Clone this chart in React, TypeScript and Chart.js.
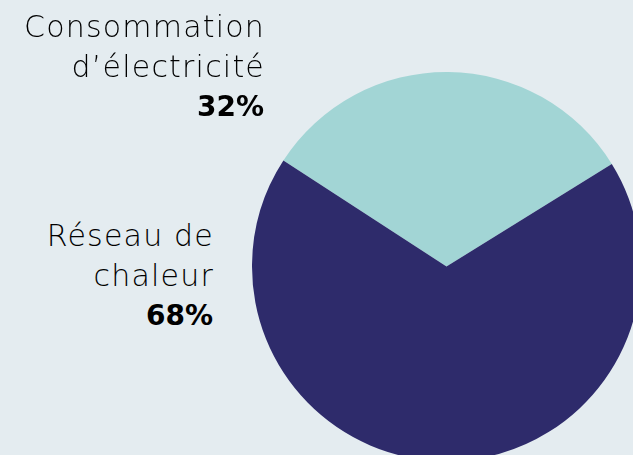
import React, { useEffect, useRef } from "react";
import { Chart, registerables } from "chart.js";

Chart.register(...registerables);

const categories = ["Consommation d’électricité", "Réseau de chaleur"];
const values = [32, 68];
const colors = ["#a2d5d5", "#2e2b6b"];

export default function App() {
  const ref = useRef<HTMLCanvasElement | null>(null);

  useEffect(() => {
    if (!ref.current) return;
    const chart = new Chart(ref.current, {
      type: "pie",
      data: {
        labels: categories,
        datasets: [
          {
            data: values,
            backgroundColor: colors,
            borderWidth: 0,
          },
        ],
      },
      options: {
        responsive: false,
        animation: false,
        rotation: -57,
        layout: { padding: 0 },
        plugins: {
          legend: { display: false },
          tooltip: { enabled: false },
        },
      },
    });
    return () => chart.destroy();
  }, []);

  const textBase: React.CSSProperties = {
    position: "absolute",
    textAlign: "right",
    fontFamily: "'DejaVu Sans', sans-serif",
    fontWeight: 200,
    fontSize: 30,
    letterSpacing: "1.2px",
    lineHeight: "40px",
    color: "#000000",
    whiteSpace: "nowrap",
  };
  const pct: React.CSSProperties = {
    fontWeight: 700,
    fontSize: 28,
    letterSpacing: "0px",
    marginRight: 1,
  };

  return (
    <div
      style={{
        position: "fixed",
        left: 0,
        top: 0,
        width: 633,
        height: 455,
        overflow: "hidden",
        background: "#e4ecf0",
      }}
    >
      <canvas
        ref={ref}
        width={389}
        height={389}
        style={{ position: "absolute", left: 252, top: 72, width: 389, height: 389 }}
      />
      <div style={{ ...textBase, right: 633 - 264 - 1, top: 7 }}>
        <div>Consommation</div>
        <div>d’électricité</div>
        <div style={pct}>{values[0]}%</div>
      </div>
      <div style={{ ...textBase, right: 633 - 213 - 1, top: 216 }}>
        <div>Réseau de</div>
        <div>chaleur</div>
        <div style={pct}>{values[1]}%</div>
      </div>
    </div>
  );
}
